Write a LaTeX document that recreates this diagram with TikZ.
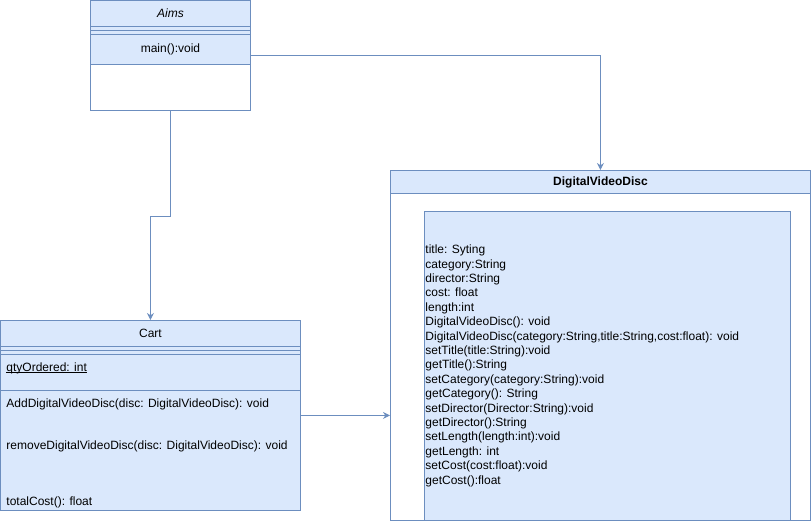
\documentclass[tikz,border=0pt]{standalone}
\usepackage{fontspec}
\setmainfont{Liberation Sans}
\usetikzlibrary{positioning,arrows.meta}
\definecolor{umlfill}{HTML}{DAE8FC}
\definecolor{umlline}{HTML}{6C8EBF}
\tikzset{
  every picture/.style={line width=0.9pt},
  part/.style={draw=umlline,fill=umlfill,rectangle,inner sep=0,anchor=north west,font=\fontsize{12pt}{14.4pt}\selectfont},
  outer/.style={draw=umlline,fill=white,rectangle,inner sep=0,anchor=north west},
  mem/.style={font=\fontsize{12pt}{14.4pt}\selectfont,inner sep=0,anchor=west},
  flow/.style={-{Stealth[length=7pt,width=7pt]},draw=umlline,line width=0.9pt},
}

\begin{document}
\begin{tikzpicture}[x=1pt,y=-1pt]
\useasboundingbox (0,0) rectangle (812,522);
% class Aims
\node[outer,minimum width=160,minimum height=110] (Aims) at (90,0) {};
\node[part,minimum width=160,minimum height=26] (aimsHd) at (90,0) {\textit{Aims}};
\node[part,minimum width=160,minimum height=8] (aimsSep) at (90,26) {};
\draw[umlline] (aimsSep.west) -- (aimsSep.east);
\node[part,minimum width=160,minimum height=30] (aimsOps) at (90,34) {main():void};
% class Cart
\node[part,minimum width=300,minimum height=190] (Cart) at (0,320) {};
\node[part,minimum width=300,minimum height=26] (cartHd) at (0,320) {Cart};
\node[part,minimum width=300,minimum height=8] (cartSep) at (0,346) {};
\draw[umlline] (cartSep.west) -- (cartSep.east);
\node[part,minimum width=300,minimum height=36] (cartAttr) at (0,354) {};
\node[mem] (qty) at (6,368) {qtyOrdered: int};
\draw[line width=0.6pt] ([yshift=-1.4pt]qty.base west) -- ([yshift=-1.4pt]qty.base east);
\node[mem] (addDvd) at (6,404) {AddDigitalVideoDisc(disc: DigitalVideoDisc): void};
\node[mem] (rmDvd) at (6,446) {removeDigitalVideoDisc(disc: DigitalVideoDisc): void};
\node[mem] (total) at (6,502) {totalCost(): float};
% class DigitalVideoDisc
\node[outer,minimum width=420,minimum height=350] (dvd) at (390,170) {};
\node[part,minimum width=420,minimum height=23] (dvdHd) at (390,170) {\textbf{DigitalVideoDisc}};
\node[part,minimum width=366,minimum height=309] (dvdBody) at (424,211) {};
\node[mem,anchor=north west,align=left] (dvdMem) at (425,244.5)
 {title: Syting\\
  category:String\\
  director:String\\
  cost: float\\
  length:int\\
  DigitalVideoDisc(): void\\
  DigitalVideoDisc(category:String,title:String,cost:float): void\\
  setTitle(title:String):void\\
  getTitle():String\\
  setCategory(category:String):void\\
  getCategory(): String\\
  setDirector(Director:String):void\\
  getDirector():String\\
  setLength(length:int):void\\
  getLength: int\\
  setCost(cost:float):void\\
  getCost():float};
% associations
\draw[flow] (Aims.east) -| (dvd.north);
\draw[flow] (Aims.south) -- ++(0,106) -| (Cart.north);
\draw[flow] (Cart.east) -- (Cart.east -| dvd.west);
\end{tikzpicture}
\end{document}
